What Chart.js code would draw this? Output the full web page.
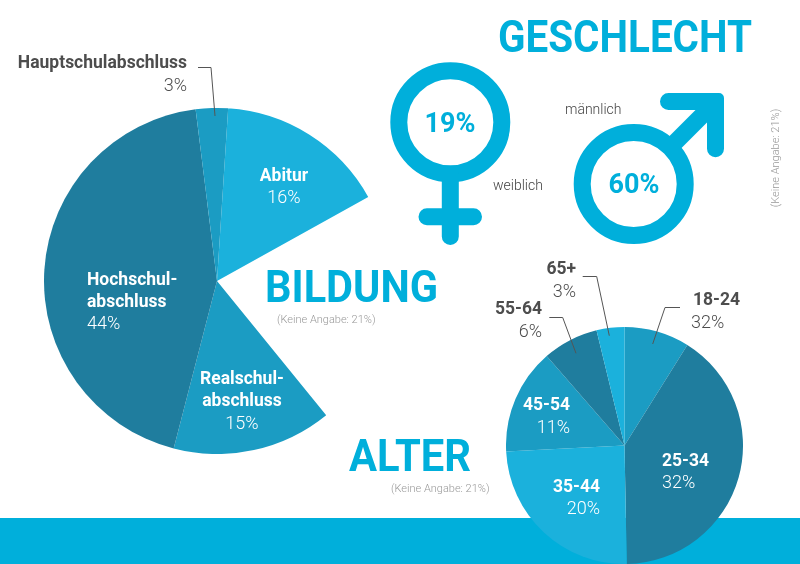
<!DOCTYPE html>
<html>
<head>
<meta charset="utf-8">
<title>Geschlecht, Bildung, Alter</title>
<script src="https://cdn.jsdelivr.net/npm/chart.js@4/dist/chart.umd.min.js"></script>
<style>
    html, body { margin: 0; padding: 0; background: #fff; }
    #page { position: relative; width: 800px; height: 564px; overflow: hidden; }
    #band { position: absolute; left: 0; top: 518px; width: 800px; height: 46px; background: #00afdb; }
    #bildungChart { position: absolute; left: 44px; top: 108px; }
    #alterChart { position: absolute; left: 506px; top: 327px; }
    #overlay { position: absolute; left: 0; top: 0; }
    text { font-family: Roboto, sans-serif; }
    .title { font-size: 44px; font-weight: 700; fill: #00afdb; }
    .sign { font-size: 27px; font-weight: 700; fill: #00afdb; }
    .name { font-size: 17.5px; font-weight: 700; }
    .pct { font-size: 18px; font-weight: 300; }
    .dark { fill: #4d4d4d; }
    .white { fill: #fff; }
    .gender { font-size: 14px; font-weight: 300; fill: #444; }
    .note { font-size: 11px; font-weight: 300; fill: #999; }
    .leader { fill: none; stroke: #555; stroke-width: 1; }
    .symbol { fill: none; stroke: #00afdb; stroke-width: 17; stroke-linecap: round; }
    .solid { fill: #00afdb; }
</style>
</head>
<body>
<div id="page">
    <div id="band"></div>
    <canvas id="bildungChart" width="346" height="346"></canvas>
    <canvas id="alterChart" width="237" height="237"></canvas>
    <svg id="overlay" width="800" height="564" xmlns="http://www.w3.org/2000/svg">
        <!-- weiblich -->
        <circle class="symbol" cx="450.3" cy="122.3" r="51.5"></circle>
        <path class="symbol" d="M450.3 175V236.5M427 216.7H473.5"></path>
        <!-- maennlich -->
        <circle class="symbol" cx="633.7" cy="184" r="51.5"></circle>
        <path class="solid" d="M668.5 93H719A5 5 0 0 1 724 98V148.8A8.5 8.5 0 0 1 707 148.8V110H668.5A8.5 8.5 0 0 1 668.5 93Z"></path>
        <path class="symbol" d="M712 105.5L672 145.5" style="stroke-linecap:butt"></path>
        <!-- leader lines -->
        <polyline class="leader" points="198,67.5 211,67.5 215,116"></polyline>
        <polyline class="leader" points="582.7,276.5 596.7,276.5 609.3,335.7"></polyline>
        <polyline class="leader" points="549.3,317.5 562.7,317.5 576,353.3"></polyline>
        <polyline class="leader" points="680,307.5 665,307.5 652.7,344"></polyline>
    </svg>
</div>
<script>
    /* values are shares of the circle, printed labels are kept apart */
    var bildungNames = ['Abitur', 'Keine Angabe', 'Realschulabschluss', 'Hochschulabschluss', 'Hauptschulabschluss'];
    var bildungValues = [15.9, 22.2, 14.9, 44, 3];
    var bildungPercents = ['16%', '21%', '15%', '44%', '3%'];

    var alterNames = ['18-24', '25-34', '35-44', '45-54', '55-64', '65+'];
    var alterValues = [8.9, 40.8, 24.5, 14.4, 7.6, 3.8];
    var alterPercents = ['32%', '32%', '20%', '11%', '6%', '3%'];

    var geschlechtPercents = ['19%', '60%'];
    var keineAngabe = '(Keine Angabe: 21%)';

    var light = '#1bb1dc';
    var mid = '#1b9cc3';
    var dark = '#1f7d9e';

    function createPie(id, labels, data, backgroundColor, rotation) {
        return new Chart(document.getElementById(id), {
            type: 'pie',
            data: {
                labels: labels,
                datasets: [{ data: data, backgroundColor: backgroundColor, borderWidth: 0, hoverOffset: 0 }]
            },
            options: {
                responsive: false,
                animation: false,
                rotation: rotation,
                layout: { padding: 0 },
                plugins: { legend: { display: false }, tooltip: { enabled: false } }
            }
        });
    }

    createPie('bildungChart', bildungNames, bildungValues, [light, 'rgba(0,0,0,0)', mid, dark, mid], 3.7);
    createPie('alterChart', alterNames, alterValues, [mid, dark, light, mid, dark, light], 0);

    /* svg text so that it can sit on a baseline */
    function addText(str, x, y, cls, anchor, width, transform) {
        var t = document.createElementNS('http://www.w3.org/2000/svg', 'text');
        t.setAttribute('x', x);
        t.setAttribute('y', y);
        t.setAttribute('class', cls);
        t.setAttribute('text-anchor', anchor || 'start');
        if (width) {
            t.setAttribute('textLength', width);
            t.setAttribute('lengthAdjust', 'spacingAndGlyphs');
        }
        if (transform) {
            t.setAttribute('transform', transform);
        }
        t.textContent = str;
        document.getElementById('overlay').appendChild(t);
    }

    addText('GESCHLECHT', 498, 52, 'title', 'start', 254);
    addText('BILDUNG', 265, 302, 'title', 'start', 173);
    addText('ALTER', 349, 471, 'title', 'start', 122);

    addText(geschlechtPercents[0], 450, 131.5, 'sign', 'middle');
    addText(geschlechtPercents[1], 634, 193, 'sign', 'middle');
    addText('weiblich', 493, 190, 'gender');
    addText('männlich', 565, 114, 'gender');

    addText(keineAngabe, 277, 323, 'note');
    addText(keineAngabe, 391, 492, 'note');
    addText(keineAngabe, 0, 0, 'note', 'middle', 0, 'translate(779,158) rotate(-90)');

    addText('Hauptschulabschluss', 187, 68, 'name dark', 'end');
    addText(bildungPercents[4], 187, 91, 'pct dark', 'end');
    addText('Abitur', 284, 181, 'name white', 'middle');
    addText(bildungPercents[0], 284, 203, 'pct white', 'middle');
    addText('Hochschul-', 87, 285, 'name white');
    addText('abschluss', 87, 307, 'name white');
    addText(bildungPercents[3], 87, 329, 'pct white');
    addText('Realschul-', 242, 384, 'name white', 'middle');
    addText('abschluss', 242, 406, 'name white', 'middle');
    addText(bildungPercents[2], 242, 429, 'pct white', 'middle');

    addText(alterNames[5], 576, 274, 'name dark', 'end');
    addText(alterPercents[5], 576, 297, 'pct dark', 'end');
    addText(alterNames[4], 542, 314, 'name dark', 'end');
    addText(alterPercents[4], 542, 337, 'pct dark', 'end');
    addText(alterNames[0], 693, 305, 'name dark');
    addText(alterPercents[0], 691, 328, 'pct dark');
    addText(alterNames[3], 570, 410, 'name white', 'end');
    addText(alterPercents[3], 570, 433, 'pct white', 'end');
    addText(alterNames[1], 662, 466, 'name white');
    addText(alterPercents[1], 662, 488, 'pct white');
    addText(alterNames[2], 600, 492, 'name white', 'end');
    addText(alterPercents[2], 600, 514, 'pct white', 'end');
</script>
</body>
</html>
